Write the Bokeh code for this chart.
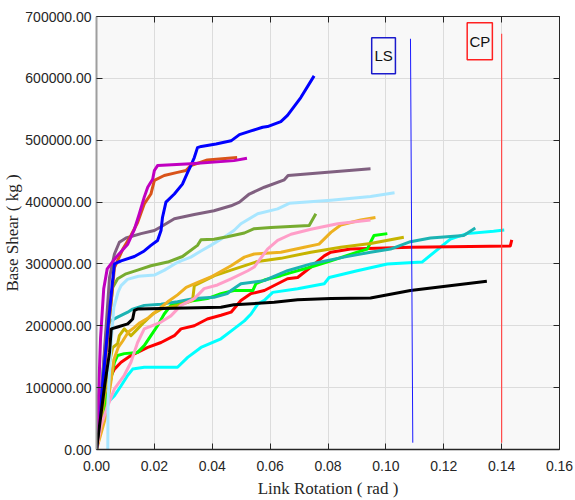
from bokeh.plotting import figure
from bokeh.models import (Range1d, LinearAxis, FixedTicker, NumeralTickFormatter,
                          CustomJSTickFormatter)
from bokeh.core.properties import value
from bokeh.embed import file_html
from bokeh.resources import INLINE

# ---- pushover curves: link rotation (rad) vs. base shear (kg) ----
rot_blue = [0, 0.002, 0.004, 0.0055, 0.0062, 0.0085, 0.0131, 0.0165, 0.0188, 0.0211, 0.0223, 0.0228,
            0.0240, 0.0269, 0.0297, 0.0315, 0.0326, 0.0338, 0.0349, 0.0362, 0.0413, 0.0465, 0.0494,
            0.0534, 0.0574, 0.0591, 0.0637, 0.0660, 0.0706, 0.0752]
shear_blue = [0, 100000, 200000, 270000, 300000, 305000, 312000, 321000, 330000, 338000, 354000, 375000,
              400000, 413000, 429000, 448000, 459000, 472000, 488000, 490000, 494000, 499000, 509000,
              515000, 521000, 522000, 530000, 540000, 569000, 604000]

rot_magenta = [0, 0.0008, 0.0014, 0.0025, 0.0037, 0.0068, 0.0108, 0.0131, 0.0148, 0.0165, 0.0177,
               0.0194, 0.0200, 0.0211, 0.0326, 0.0475, 0.0520]
shear_magenta = [0, 100000, 180000, 260000, 292000, 311000, 332000, 356000, 381000, 408000, 424000,
                 437000, 451000, 459000, 462000, 467000, 471000]

rot_orange = [0, 0.002, 0.004, 0.0055, 0.0062, 0.0091, 0.0119, 0.0142, 0.0165, 0.0188, 0.0200, 0.0234,
              0.0280, 0.0309, 0.0326, 0.0383, 0.0486]
shear_orange = [0, 90000, 190000, 260000, 294000, 324000, 346000, 367000, 397000, 413000, 435000, 443000,
                448000, 451000, 459000, 468000, 472000]

rot_mauve = [0, 0.002, 0.0045, 0.0062, 0.0079, 0.0102, 0.0154, 0.0200, 0.0223, 0.0269, 0.0338, 0.0406,
             0.0465, 0.0494, 0.0528, 0.0580, 0.0649, 0.0662, 0.0947]
shear_mauve = [0, 110000, 278000, 316000, 335000, 342000, 349000, 354000, 360000, 373000, 380000, 386000,
               394000, 400000, 413000, 424000, 436000, 443000, 454000]

rot_skyblue = [0.0039, 0.0040, 0.0050, 0.0060, 0.0075, 0.0085, 0.0107, 0.0145, 0.0200, 0.0235, 0.0270,
               0.0292, 0.0326, 0.0361, 0.0395, 0.0441, 0.0475, 0.0499, 0.0557, 0.0626, 0.0666, 0.0810,
               0.0947, 0.1030]
shear_skyblue = [0, 80000, 170000, 230000, 255000, 265000, 275000, 280000, 282000, 290000, 300000,
                 305000, 311000, 321000, 330000, 343000, 354000, 365000, 381000, 389000, 398000, 403000,
                 409000, 415000]

rot_olive = [0, 0.003, 0.0056, 0.0073, 0.0102, 0.0142, 0.0188, 0.0246, 0.0297, 0.0349, 0.0361, 0.0406,
             0.0452, 0.0511, 0.0545, 0.0603, 0.0735, 0.0758]
shear_olive = [0, 150000, 262000, 276000, 284000, 290000, 297000, 303000, 312000, 330000, 339000, 340000,
               344000, 350000, 357000, 359000, 362000, 381000]

rot_pink = [0, 0.0016, 0.0039, 0.0062, 0.0096, 0.0119, 0.0142, 0.0165, 0.0223, 0.0257, 0.0292, 0.0338,
            0.0372, 0.0418, 0.0465, 0.0523, 0.0545, 0.0591, 0.0626, 0.0672, 0.0741, 0.0833, 0.0947]
shear_pink = [0, 39000, 71000, 98000, 120000, 141000, 173000, 195000, 206000, 216000, 233000, 244000,
              260000, 266000, 276000, 289000, 295000, 324000, 338000, 348000, 356000, 365000, 371000]

rot_gold = [0, 0.003, 0.005, 0.006, 0.0075, 0.009, 0.011, 0.013, 0.015, 0.018, 0.021, 0.025, 0.028,
            0.031, 0.035, 0.040, 0.0465, 0.0511, 0.0545, 0.0637, 0.0718, 0.0769, 0.0810, 0.0844,
            0.0913, 0.0964]
shear_gold = [0, 50000, 110000, 145000, 165000, 175000, 190000, 197000, 205000, 213000, 225000, 240000,
              250000, 262000, 270000, 280000, 297000, 311000, 316000, 319000, 327000, 332000, 351000,
              363000, 371000, 375000]

rot_mustard = [0, 0.002, 0.004, 0.0056, 0.0073, 0.0079, 0.0096, 0.0119, 0.0142, 0.0165, 0.0194, 0.0223,
               0.0280, 0.0315, 0.0332, 0.0338, 0.0408, 0.0465, 0.0557, 0.0637, 0.0741, 0.0844, 0.0947,
               0.1062]
shear_mustard = [0, 60000, 130000, 165000, 171000, 184000, 195000, 184000, 195000, 206000, 219000, 227000,
                 233000, 238000, 241000, 265000, 281000, 290000, 304000, 309000, 319000, 327000, 333000,
                 343000]

rot_teal = [0, 0.002, 0.0035, 0.0045, 0.0073, 0.0108, 0.0125, 0.0165, 0.0223, 0.0280, 0.0338, 0.0406,
            0.0452, 0.0465, 0.0499, 0.0580, 0.0603, 0.0660, 0.0741, 0.0855, 0.0947, 0.1016, 0.1085,
            0.1154, 0.1269, 0.1309]
shear_teal = [0, 110000, 195000, 207000, 214000, 222000, 227000, 233000, 235000, 239000, 244000, 246000,
              252000, 257000, 268000, 273000, 278000, 289000, 300000, 311000, 319000, 324000, 336000,
              342000, 346000, 358000]

rot_green = [0, 0.0028, 0.0045, 0.0062, 0.0073, 0.0096, 0.0142, 0.0165, 0.0188, 0.0211, 0.0234, 0.0257,
             0.0292, 0.0338, 0.0383, 0.0430, 0.0475, 0.0540, 0.0551, 0.0580, 0.0637, 0.0672, 0.0741,
             0.0810, 0.0901, 0.0936, 0.0947, 0.0959, 0.1005]
shear_green = [0, 66000, 103000, 141000, 152000, 155000, 157000, 168000, 184000, 200000, 219000, 233000,
               238000, 241000, 244000, 252000, 257000, 257000, 268000, 274000, 281000, 286000, 295000,
               305000, 319000, 324000, 335000, 346000, 349000]

rot_red = [0, 0.003, 0.0051, 0.0062, 0.0085, 0.0119, 0.0142, 0.0177, 0.0223, 0.0269, 0.0292, 0.0338,
           0.0383, 0.0430, 0.0465, 0.0499, 0.0534, 0.0580, 0.0660, 0.0695, 0.0741, 0.0787, 0.0810,
           0.0878, 0.1085, 0.1430, 0.1435]
shear_red = [0, 70000, 120000, 130000, 141000, 152000, 157000, 165000, 173000, 184000, 195000, 200000,
             211000, 217000, 222000, 241000, 252000, 257000, 276000, 278000, 295000, 313000, 319000,
             324000, 327000, 329000, 339000]

rot_cyan = [0, 0.0022, 0.0039, 0.0062, 0.0085, 0.0108, 0.0125, 0.0165, 0.0280, 0.0315, 0.0361, 0.0430,
            0.0475, 0.0511, 0.0534, 0.0557, 0.0580, 0.0609, 0.0695, 0.0787, 0.0804, 0.0901, 0.1005,
            0.1125, 0.1223, 0.1280, 0.1372, 0.1409]
shear_cyan = [0, 60000, 76000, 87000, 103000, 120000, 130000, 133000, 133000, 149000, 165000, 179000,
              195000, 208000, 219000, 235000, 241000, 254000, 260000, 268000, 278000, 289000, 300000,
              303000, 340000, 349000, 353000, 355000]

rot_black = [0, 0.0028, 0.0045, 0.0051, 0.0073, 0.0108, 0.0125, 0.0131, 0.0142, 0.0223, 0.0430, 0.0475,
             0.0614, 0.0695, 0.0810, 0.0947, 0.1085, 0.1349]
shear_black = [0, 103000, 157000, 195000, 198000, 203000, 211000, 225000, 227000, 228000, 230000, 234000,
               238000, 242000, 244000, 245000, 257000, 272000]

# performance limits: Life Safety and Collapse Prevention
ls_rot = [0.1085, 0.1093]
ls_shear = [664000, 11000]
cp_rot = [0.1400, 0.1400]
cp_shear = [672000, 11000]

x_ticks = [0.00, 0.02, 0.04, 0.06, 0.08, 0.10, 0.12, 0.14, 0.16]
y_ticks = [0, 100000, 200000, 300000, 400000, 500000, 600000, 700000]

curves = [
    (rot_cyan, shear_cyan, "#00ffff"),
    (rot_red, shear_red, "#ff0000"),
    (rot_green, shear_green, "#00ff00"),
    (rot_teal, shear_teal, "#1cb3b3"),
    (rot_mustard, shear_mustard, "#c6b400"),
    (rot_gold, shear_gold, "#edb120"),
    (rot_pink, shear_pink, "#ff9ec8"),
    (rot_skyblue, shear_skyblue, "#a8e6ff"),
    (rot_olive, shear_olive, "#77ac30"),
    (rot_mauve, shear_mauve, "#806080"),
    (rot_orange, shear_orange, "#d95319"),
    (rot_blue, shear_blue, "#0000ff"),
    (rot_magenta, shear_magenta, "#c000c0"),
    (rot_black, shear_black, "#000000"),
]

TICK_FONT = "Liberation Sans"
LABEL_FONT = "Liberation Serif"
DARK = "#262626"

p = figure(width=575, height=500,
           x_range=Range1d(0, 0.16), y_range=Range1d(0, 700000),
           min_border_left=95, min_border_right=16, min_border_top=16, min_border_bottom=51,
           background_fill_color="#f8f8f8", border_fill_color="white",
           output_backend="svg", toolbar_location=None)
p.outline_line_color = None

p.xaxis.ticker = FixedTicker(ticks=x_ticks)
p.yaxis.ticker = FixedTicker(ticks=y_ticks)
p.xaxis.formatter = NumeralTickFormatter(format="0.00")
p.yaxis.formatter = NumeralTickFormatter(format="0.00")
p.xgrid.ticker = FixedTicker(ticks=x_ticks)
p.ygrid.ticker = FixedTicker(ticks=y_ticks)
p.grid.grid_line_color = "#dcdcdc"
p.grid.grid_line_width = 1

for ax in (p.xaxis[0], p.yaxis[0]):
    ax.major_tick_in = 6
    ax.major_tick_out = 0
    ax.minor_tick_line_color = None
    ax.major_tick_line_color = DARK
    ax.major_label_text_font = TICK_FONT
    ax.major_label_text_font_size = "14px"
    ax.major_label_text_color = DARK
    ax.axis_label_text_font = LABEL_FONT
    ax.axis_label_text_font_size = "17px"
    ax.axis_label_text_font_style = "normal"
    ax.axis_label_text_color = DARK

p.xaxis.axis_label = "Link Rotation ( rad )"
p.yaxis.axis_label = "Base Shear ( kg )"
p.xaxis.axis_line_color = DARK
p.xaxis.axis_line_width = 1.5
p.xaxis.major_label_standoff = 11
p.xaxis.axis_label_standoff = 5
p.yaxis.axis_line_color = "#9e9e9e"
p.yaxis.axis_line_width = 2
p.yaxis.major_label_standoff = 5
p.yaxis.axis_label_standoff = 0

# box frame: unlabeled ticks on the top and right edges
blank = CustomJSTickFormatter(code="return ''")
top_axis = LinearAxis(ticker=FixedTicker(ticks=x_ticks), formatter=blank)
right_axis = LinearAxis(ticker=FixedTicker(ticks=y_ticks), formatter=blank)
for ax in (top_axis, right_axis):
    ax.major_tick_in = 6
    ax.major_tick_out = 0
    ax.minor_tick_line_color = None
    ax.major_tick_line_color = DARK
    ax.axis_line_color = DARK
    ax.major_label_standoff = 0
p.add_layout(top_axis, "above")
p.add_layout(right_axis, "right")

for rx, sy, col in curves:
    p.line(rx, sy, line_color=col, line_width=3, line_join="round")

# LS / CP limit lines with their tags
p.line(ls_rot, ls_shear, line_color="#1a1aff", line_width=1)
p.line(cp_rot, cp_shear, line_color="#ff4848", line_width=1.2)

p.quad(left=[0.0951], right=[0.1033], bottom=[607400], top=[665600],
       fill_color="#f8f8f8", line_color="#1a1acc", line_width=1.5)
p.quad(left=[0.1281], right=[0.1368], bottom=[630000], top=[689800],
       fill_color="#f8f8f8", line_color="#ff2020", line_width=1.5)
p.text(x=[0.0992], y=[636500], text=["LS"], text_align="center", text_baseline="middle",
       text_font=value(TICK_FONT), text_font_size="15px", text_color="#111111")
p.text(x=[0.1325], y=[659900], text=["CP"], text_align="center", text_baseline="middle",
       text_font=value(TICK_FONT), text_font_size="15px", text_color="#111111")

open("out.html", "w").write(file_html(p, INLINE))
